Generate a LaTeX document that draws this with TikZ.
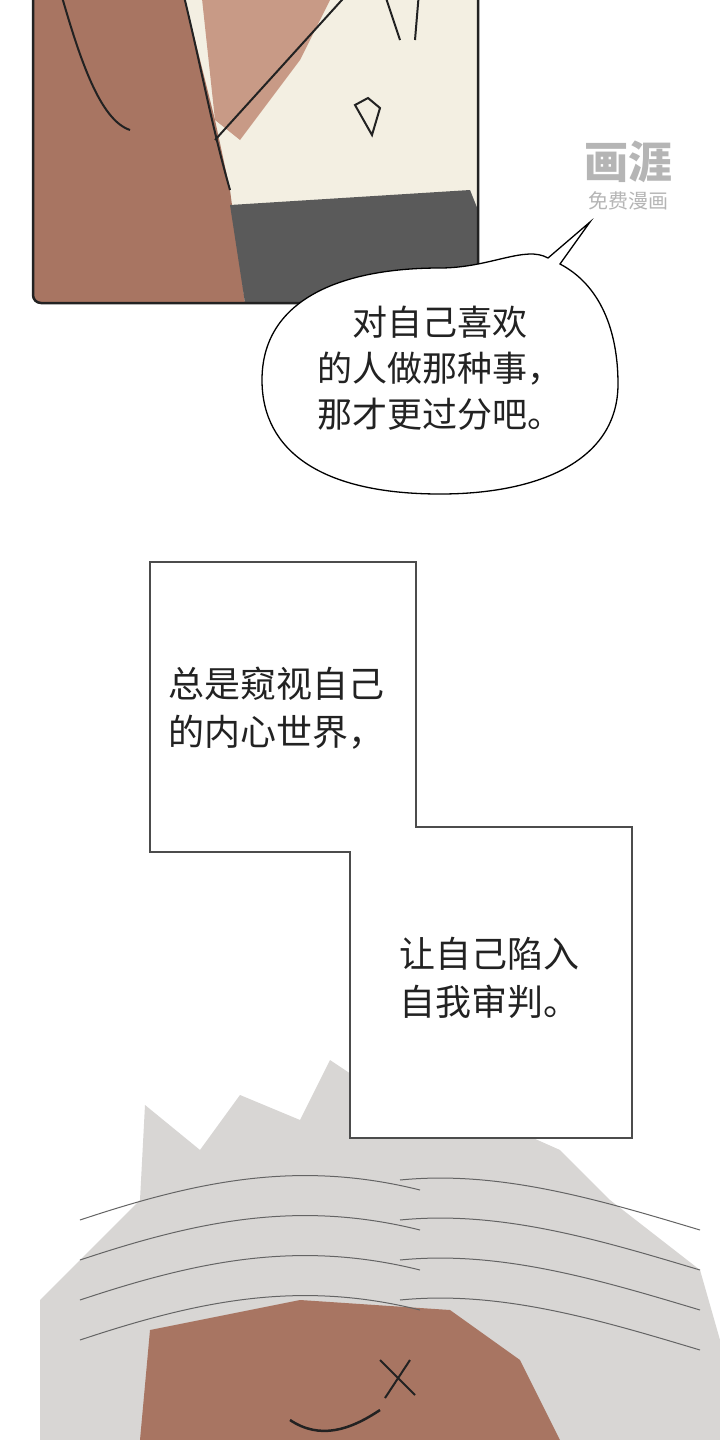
\documentclass[tikz,border=0pt]{standalone}
\usepackage{fontspec}
\setmainfont{Noto Sans CJK SC}
\usetikzlibrary{positioning, shapes.geometric}
\definecolor{skin}{HTML}{A87562}
\definecolor{skinlight}{HTML}{C89A86}
\definecolor{cloth}{HTML}{5A5A5A}
\definecolor{panelbg}{HTML}{F3EFE2}
\definecolor{hairgray}{HTML}{D8D6D4}
\definecolor{inkline}{HTML}{222222}
\definecolor{markgray}{HTML}{B5B5B5}
\tikzset{
  speech/.style={font=\fontsize{35}{46}\selectfont, align=center, text=inkline},
  caption/.style={font=\fontsize{36}{48}\selectfont, align=left, text=inkline, anchor=west},
  boxline/.style={draw=black!70, line width=1.2pt},
  ink/.style={draw=inkline, line width=2pt}
}
\begin{document}
\begin{tikzpicture}[x=1pt,y=-1pt]
\useasboundingbox (0,0) rectangle (720,1440);
\fill[white] (0,0) rectangle (720,1440);

% Top panel
\begin{scope}
\clip[rounded corners=8pt] (33,-20) rectangle (478,303);
\fill[panelbg] (33,-20) rectangle (478,303);
\fill[skin] (33,-20) -- (180,-20) -- (215,120) -- (230,190) -- (245,303) -- (33,303) -- cycle;
\fill[skinlight] (200,-20) -- (340,-20) -- (300,60) -- (240,140) -- (215,120) -- cycle;
\fill[cloth] (230,205) -- (470,190) -- (478,210) -- (478,303) -- (245,303) -- cycle;
\draw[ink] (180,-20) .. controls (200,60) and (210,120) .. (230,190);
\draw[ink] (215,140) -- (360,-20);
\draw[ink] (60,-10) .. controls (80,60) and (100,120) .. (130,130);
\draw[ink] (380,-20) -- (400,40);
\draw[ink] (420,-20) -- (415,40);
\draw[ink] (355,105) -- (368,98) -- (380,108) -- (372,135) -- cycle;
\end{scope}
\draw[ink, line width=2.5pt, rounded corners=8pt] (478,-20) -- (478,303) -- (33,303) -- (33,-20);

% Watermark
\node[font=\fontsize{44}{44}\selectfont\bfseries, text=markgray] (wmark) at (628,162) {画涯};
\node[font=\fontsize{20}{20}\selectfont, text=markgray, below=2pt of wmark] (wsub) {免费漫画};

% Speech bubble with tail
\draw[line width=1.3pt, fill=white] (440,268)
  .. controls (490,268) and (525,245) .. (548,258)
  -- (590,222) -- (560,264)
  .. controls (600,285) and (618,330) .. (618,384)
  .. controls (618,460) and (540,494) .. (440,494)
  .. controls (320,494) and (262,450) .. (262,380)
  .. controls (262,300) and (340,268) .. (440,268) -- cycle;
\node[speech] (speech) at (440,368) {对自己喜欢\\的人做那种事，\\那才更过分吧。};

% Hair at bottom
\begin{scope}
\clip (0,1050) rectangle (720,1440);
\fill[hairgray] (40,1300) -- (140,1200) -- (145,1105) -- (200,1150) -- (240,1095) -- (300,1120) -- (330,1060) -- (390,1100) -- (430,1045) -- (470,1110) -- (560,1150) -- (610,1200) -- (700,1270) -- (720,1340) -- (720,1440) -- (40,1440) -- cycle;
\fill[skin] (140,1440) -- (150,1330) -- (300,1300) -- (450,1310) -- (520,1360) -- (560,1440) -- cycle;
\foreach \yy in {1180,1220,1260,1300} {
  \draw[inkline!70, line width=1pt] (80,\yy+40) .. controls (200,\yy) and (300,\yy-20) .. (420,\yy+10);
  \draw[inkline!70, line width=1pt] (400,\yy) .. controls (500,\yy-10) and (600,\yy+20) .. (700,\yy+50);
}
\draw[inkline, line width=2pt] (380,1360) -- (415,1395);
\draw[inkline, line width=2pt] (410,1360) -- (385,1398);
\draw[inkline, line width=2.5pt] (290,1420) .. controls (320,1440) and (350,1430) .. (380,1410);
\end{scope}

% Caption box
\draw[boxline, fill=white] (150,562) -- (416,562) -- (416,827) -- (632,827) -- (632,1138) -- (350,1138) -- (350,852) -- (150,852) -- cycle;
\node[caption] (capA) at (165,708) {总是窥视自己\\的内心世界，};
\node[caption] (capB) at (396,978) {让自己陷入\\自我审判。};
\end{tikzpicture}
\end{document}
